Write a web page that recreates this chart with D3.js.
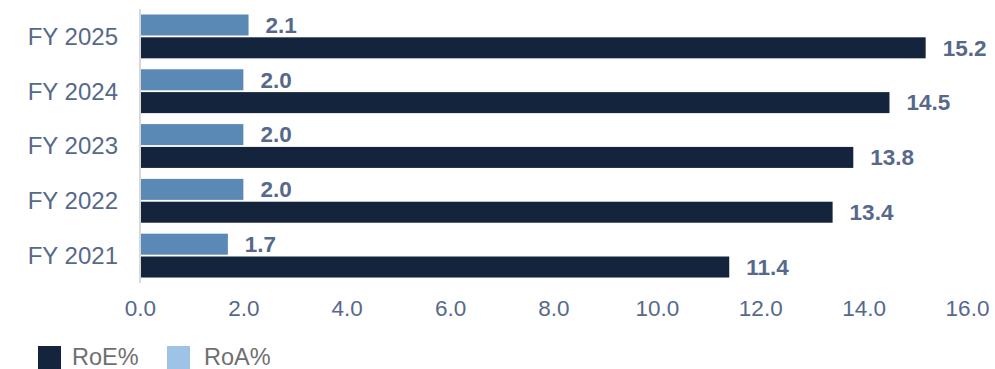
<!DOCTYPE html>
<html><head><meta charset="utf-8">
<script src="https://cdn.jsdelivr.net/npm/d3@7"></script>
<style>body{margin:0;background:#fff;} svg{display:block;font-family:"Liberation Sans",Arial,sans-serif;}</style>
</head><body>
<svg id="c" width="995" height="369"></svg>
<script>
const categories = ["FY 2025","FY 2024","FY 2023","FY 2022","FY 2021"];
const roa = [2.1, 2.0, 2.0, 2.0, 1.7];
const roe = [15.2, 14.5, 13.8, 13.4, 11.4];
const xTicks = [0,2,4,6,8,10,12,14,16];
const seriesNames = ["RoA%","RoE%"];

const svg = d3.select("#c");
const x = d3.scaleLinear().domain([0,16]).range([140,967]);
const y = d3.scaleBand().domain(categories).range([9,283]).paddingInner(0.2).paddingOuter(0.1);
const ySub = d3.scaleBand().domain(seriesNames).range([0,y.bandwidth()]).paddingInner(0.08);
const colors = {"RoA%":"#5b89b6","RoE%":"#13243c"};
const legendColors = {"RoE%":"#13243c","RoA%":"#9dc3e6"};
const labelColor = "#56698a";

svg.append("line").attr("x1",x(0)).attr("x2",x(0)).attr("y1",9).attr("y2",283)
  .attr("stroke","#d9d9d9").attr("stroke-width",2);

const data = categories.map((c,i)=>({cat:c, vals:[{s:"RoA%",v:roa[i]},{s:"RoE%",v:roe[i]}]}));
const g = svg.selectAll("g.cat").data(data).enter().append("g").attr("transform",d=>`translate(0,${y(d.cat)})`);
g.selectAll("rect").data(d=>d.vals).enter().append("rect")
  .attr("x",x(0)+1).attr("y",d=>ySub(d.s)).attr("width",d=>x(d.v)-x(0)-1).attr("height",ySub.bandwidth())
  .attr("fill",d=>colors[d.s]);
g.selectAll("text.val").data(d=>d.vals).enter().append("text")
  .attr("x",d=>x(d.v)+17).attr("y",d=>ySub(d.s)+ySub.bandwidth()/2).attr("dy","0.35em")
  .attr("font-size",22.5).attr("font-weight","bold").attr("fill",labelColor)
  .text(d=>d.v.toFixed(1));

svg.selectAll("text.cat").data(categories).enter().append("text")
  .attr("x",118).attr("y",d=>y(d)+y.bandwidth()/2).attr("dy","0.35em").attr("text-anchor","end")
  .attr("font-size",24).attr("fill",labelColor).text(d=>d);

const xAxis = d3.axisBottom(x).tickValues(xTicks).tickFormat(d=>d.toFixed(1)).tickSize(0).tickPadding(0);
const ax = svg.append("g").attr("transform","translate(0,300)").call(xAxis);
ax.select(".domain").remove();
ax.selectAll("text").attr("font-size",22.5).attr("fill",labelColor).attr("font-family","Liberation Sans, Arial, sans-serif");

const legend = [{s:"RoE%",x:38,tx:72},{s:"RoA%",x:167,tx:204}];
const lg = svg.selectAll("g.lg").data(legend).enter().append("g");
lg.append("rect").attr("x",d=>d.x).attr("y",346).attr("width",23).attr("height",23).attr("fill",d=>legendColors[d.s]);
lg.append("text").attr("x",d=>d.tx).attr("y",365).attr("font-size",23.5).attr("fill","#6f6f6f").text(d=>d.s);
</script>
</body></html>
